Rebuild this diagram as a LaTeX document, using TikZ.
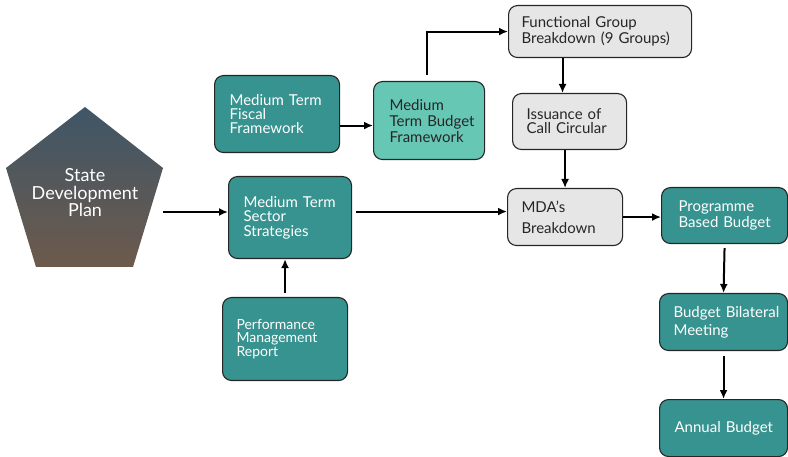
\documentclass[tikz,border=0pt]{standalone}
\usepackage{fontspec}
\setmainfont{Lato}
\usetikzlibrary{arrows.meta}

\definecolor{tealbox}{HTML}{37938F}
\definecolor{lightteal}{HTML}{67C7B5}
\definecolor{greybox}{HTML}{E6E6E6}
\definecolor{sdptop}{HTML}{3F5667}
\definecolor{sdpbottom}{HTML}{6D5A4C}

\hyphenpenalty=10000
\exhyphenpenalty=10000
\hbadness=10000
\hfuzz=60pt

\tikzset{
  box/.style={draw=black!85, line width=1.1pt, rounded corners=9pt,
    anchor=north west, inner sep=0pt, align=left,
    font=\fontsize{15}{16}\selectfont},
  tealbox/.style={box, fill=tealbox, text=white},
  lightbox/.style={box, fill=lightteal, text=black!85},
  greybox/.style={box, fill=greybox, text=black!85},
  flow/.style={-{Latex[length=9pt,width=8pt]}, line width=2pt}
}

\begin{document}
\begin{tikzpicture}[x=1pt,y=-1pt]
    \useasboundingbox (0,0) rectangle (788,457);
    % state development plan
    \shade[top color=sdptop, bottom color=sdpbottom]
      (85,107) -- (163,168) -- (133,267) -- (36,267) -- (6,168) -- cycle;
    \node[text=white, align=center, font=\fontsize{18}{17.5}\selectfont] (sdp) at (85,193)
      {State\\Development\\Plan};
    \coordinate (sdpout) at (163,212);

    \node[tealbox, minimum width=125pt, minimum height=77pt, text width=95pt,
      font=\fontsize{15}{14}\selectfont] (mtff) at (214,75)
      {Medium~Term\\Fiscal\\Framework};
    \node[tealbox, minimum width=123pt, minimum height=82pt, text width=93pt,
      font=\fontsize{15}{14.5}\selectfont] (mtss) at (228,176)
      {Medium~Term\\Sector\\Strategies};
    \node[tealbox, minimum width=125pt, minimum height=83pt, text width=97pt,
      font=\fontsize{14}{13}\selectfont] (pmr) at (222,297)
      {Performance\\Management\\[1pt]Report};
    \node[lightbox, minimum width=111pt, minimum height=78pt, text width=79pt] (mtbf) at (373,81)
      {Medium\\Term~Budget\\Framework};
    \node[greybox, minimum width=183pt, minimum height=52pt, text width=157pt,
      font=\fontsize{15}{15.6}\selectfont] (fgb) at (508,5)
      {Functional~Group\\Breakdown~(9~Groups)};
    \node[greybox, minimum width=114pt, minimum height=56pt, text width=86pt,
      font=\fontsize{15}{14}\selectfont] (iss) at (512,93)
      {Issuance~of\\Call~Circular};
    \node[greybox, minimum width=115pt, minimum height=57pt, text width=87pt,
      font=\fontsize{15}{21}\selectfont] (mda) at (507,188)
      {MDA’s\\Breakdown};
    \node[tealbox, minimum width=126pt, minimum height=56pt, text width=92pt,
      font=\fontsize{15}{15.5}\selectfont] (pbb) at (661,187)
      {Programme\\Based~Budget};
    \node[tealbox, minimum width=128pt, minimum height=57pt, text width=100pt,
      font=\fontsize{15}{18}\selectfont] (bbm) at (659,293)
      {Budget~Bilateral\\Meeting};
    \node[tealbox, minimum width=128pt, minimum height=57pt, text width=98pt] (ab) at (659,399)
      {Annual~Budget};

    % connectors
    \draw[flow] (sdpout) -- (mtss.west |- sdpout);
    \draw[flow] ([yshift=-11.5pt]mtff.east) -- ([yshift=-11.5pt]mtff.east -| mtbf.west);
    \draw[flow] ([xshift=-2pt,yshift=6pt]mtbf.north) |- (fgb.west);
    \draw[flow] ([xshift=-7pt]fgb.south -| iss.north) -- ([xshift=-7pt]iss.north);
    \draw[flow] (iss.south -| mda.north) -- (mda.north);
    \draw[flow] ([xshift=4pt,yshift=6pt]mtss.east) -- ([yshift=6pt]mtss.east -| mda.west);
    \draw[flow] (mda.east) -- (mda.east -| pbb.west);
    \draw[flow] ([yshift=-4pt]pbb.south) -- (bbm.north);
    \draw[flow] ([yshift=-5pt]bbm.south) -- (ab.north);
    \draw[flow] ([yshift=4pt]pmr.north) -- (mtss.south -| pmr.north);
  \end{tikzpicture}
\end{document}
